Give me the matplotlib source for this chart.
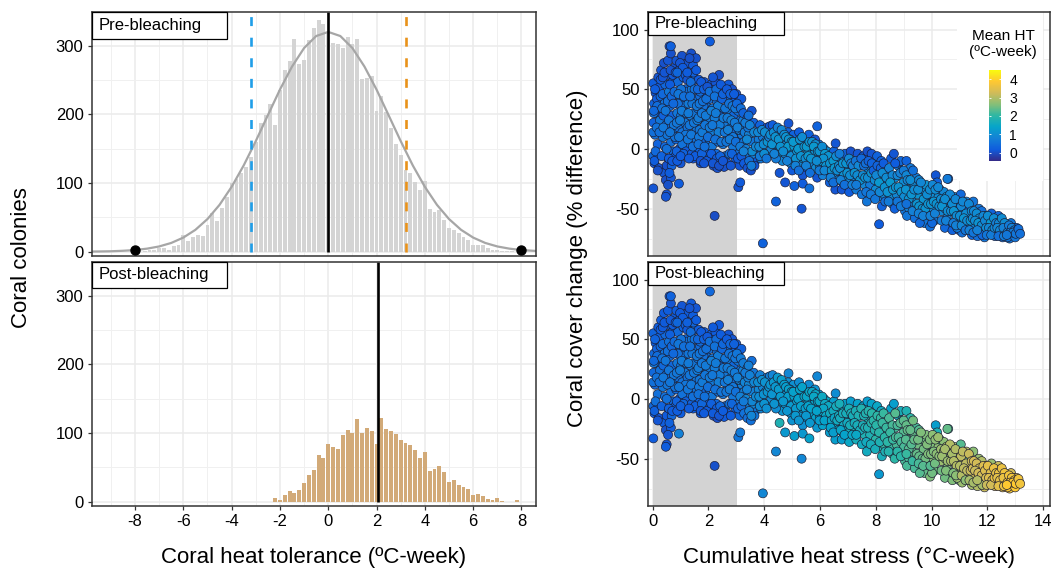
import numpy as np
import matplotlib
matplotlib.use("Agg")
import matplotlib.pyplot as plt
from matplotlib.colors import LinearSegmentedColormap
from matplotlib.patches import Rectangle

plt.rcParams['font.family'] = ['Liberation Sans', 'DejaVu Sans']
plt.rcParams['axes.unicode_minus'] = False

W, H = 1055, 569

# histogram counts
hist_pre_x = np.arange(-38, 39) * 0.2
hist_pre = [1, 2, 3, 5, 6, 3, 8, 10, 24, 16, 22, 25, 23, 39, 57, 45, 63, 80, 100, 106, 114, 124, 138, 160,
            188, 199, 215, 184, 235, 264, 277, 310, 273, 279, 308, 325, 337, 331, 320, 304, 303, 297, 313,
            303, 310, 251, 253, 256, 205, 227, 204, 180, 157, 141, 119, 115, 102, 90, 103, 62, 58, 60, 46,
            34, 32, 27, 22, 17, 10, 10, 9, 6, 2, 2, 1, 1, 1]
hist_post_x = np.arange(-11, 40) * 0.2
hist_post = [5, 3, 10, 15, 13, 17, 27, 39, 46, 68, 63, 84, 80, 77, 97, 105, 100, 120, 100, 108, 103, 84, 122,
             106, 103, 99, 90, 86, 82, 75, 63, 72, 45, 47, 52, 43, 29, 31, 24, 21, 19, 10, 11, 8, 4, 2, 6, 1,
             0, 0, 2]

curve_x = [-9.78, -9.5, -9, -8.5, -8, -7.5, -7, -6.5, -6, -5.5, -5, -4.5, -4, -3.5, -3, -2.5, -2, -1.5, -1, -0.5, 0,
           0.5, 1, 1.5, 2, 2.5, 3, 3.5, 4, 4.5, 5, 5.5, 6, 6.5, 7, 7.5, 8, 8.58]
curve_y = [0.2, 0.3, 0.6, 1.3, 2.4, 4.4, 7.6, 12.7, 20.5, 31.8, 47.5, 68.2, 94.4, 125.6, 161, 198.6, 236, 269.5, 296.5, 314, 320,
           314, 296.5, 269.5, 236, 198.6, 161, 125.6, 94.4, 68.2, 47.5, 31.8, 20.5, 12.7, 7.6, 4.4, 2.4, 1.1]
limit_x = [-8, 8]
limit_y = [2.4, 2.4]
mean_pre = 0
mean_post = 2.05
lower_ci = -3.2
upper_ci = 3.2
shade_end = 3.03

# sites, one row per ten points: heat stress, cover change and the mean HT before/after
stress = [
    .02, .10, .05, .20, .12, .03, .25, .08, .18, .02,
    .15, .30, .06, .28, .02, .22, .33, .10, .04, .26,
    .40, .52, .45, .60, .35, .55, .42, .65, .38, .58,
    .48, .62, .36, .70, .44, .56, .72, .40, .50, .66,
    .47, .65, .55, .74, .50, .68, .60, .78, .52, .70,
    .85, .95, 1.05, .90, 1.15, .80, 1.00, 1.10, .88, 1.18,
    .92, 1.02, .84, 1.12, .96, 1.06, .82, 1.16, 1.00, .90,
    1.25, 1.38, 1.30, 1.45, 1.52, 1.22, 1.40, 1.55, 1.28, 1.48,
    1.35, 1.25, 1.50, 1.42, 1.30, 1.58, 1.22, 1.45, 1.35, 1.55,
    1.65, 1.78, 1.70, 1.85, 1.95, 1.62, 1.80, 1.92, 1.68, 1.88,
    1.75, 1.95, 1.65, 1.85, 1.72, 1.90, 1.60, 1.98, 1.82, 1.70,
    2.10, 2.25, 2.05, 2.38, 2.15, 2.45, 2.08, 2.30, 2.20, 2.40,
    2.12, 2.35, 2.02, 2.28, 2.42, 2.18, 2.48, 2.06, 2.32, 2.22,
    2.58, 2.72, 2.65, 2.85, 2.55, 2.95, 2.78, 2.62, 2.90, 2.70,
    2.60, 2.82, 2.52, 2.92, 2.75, 2.68, 2.88, 2.98, 2.56, 2.80,
    3.00, 3.10, 3.05, 3.18, 2.95, 3.15, 3.02, 3.20, 3.08, 3.12,
    .08, .16, .28, .04, .36, .14, .24, .06, .32, .18,
    .42, .54, .34, .62, .46, .68, .38, .58, .74, .50,
    .72, .78, .64, .82, .76, .58, .86, .70, .80, .62,
    .98, 1.08, .88, 1.18, 1.02, .92, 1.12, 1.20, .86, 1.04,
    1.14, .98, 1.06, 1.20, .88, 1.10, 1.00, 1.18, 1.24, .94,
    1.32, 1.46, 1.24, 1.56, 1.36, 1.50, 1.28, 1.42, 1.58, 1.34,
    1.32, 1.48, 1.56, 1.26, 1.40, 1.60, 1.38, 1.52, 1.30, 1.44,
    1.62, 1.74, 1.84, 1.96, 1.68, 1.80, 1.92, 1.64, 1.76, 1.90,
    1.66, 1.78, 1.88, 1.98, 1.64, 1.76, 1.86, 1.72, 1.94, 1.84,
    2.04, 2.16, 2.28, 2.44, 2.22, 2.34, 2.10, 2.48, 2.26, 2.40,
    2.04, 2.14, 2.36, 2.24, 2.46, 2.10, 2.30, 2.42, 2.16, 2.38,
    2.52, 2.66, 2.78, 2.92, 2.60, 2.74, 2.86, 2.54, 2.68, 2.96,
    2.82, 2.94, 2.58, 2.70, 2.88, 2.64, 2.76, 2.98, 2.84, 2.52,
    3.02, 3.16, 3.24, 3.10, 3.22, 3.06, 3.28, 3.14, 3.04, 3.18,
    3.25, 3.40, 3.55, 3.30, 3.62, 3.45, 3.35, 3.58, 3.28, 3.50,
    3.40, 3.68, 3.52, 3.72, 3.60, 3.80, 3.42, 3.75, 3.65, 3.85,
    3.95, 4.10, 3.90, 4.20, 4.05, 4.30, 3.88, 4.15, 4.35, 4.25,
    4.45, 4.60, 4.40, 4.70, 4.50, 4.80, 4.55, 4.65, 4.42, 4.85,
    4.90, 5.05, 4.95, 5.15, 5.00, 5.25, 5.10, 5.30, 4.92, 5.20,
    5.35, 5.50, 5.40, 5.60, 5.45, 5.70, 5.55, 5.75, 5.38, 5.65,
    5.80, 5.95, 5.85, 6.05, 5.90, 6.15, 6.00, 6.20, 5.82, 6.10,
    6.25, 6.40, 6.30, 6.50, 6.35, 6.60, 6.45, 6.65, 6.28, 6.55,
    6.75, 6.90, 6.80, 7.00, 6.85, 7.10, 6.95, 7.15, 6.78, 7.05,
    7.20, 7.35, 7.25, 7.45, 7.30, 7.55, 7.40, 7.60, 7.22, 7.50,
    7.70, 7.85, 7.75, 7.95, 7.80, 8.05, 7.90, 8.10, 7.68, 8.00,
    8.20, 8.35, 8.25, 8.45, 8.30, 8.55, 8.40, 8.60, 8.22, 8.50,
    8.65, 8.80, 8.70, 8.90, 8.75, 9.00, 8.85, 9.05, 8.68, 8.95,
    9.10, 9.25, 9.15, 9.35, 9.20, 9.45, 9.30, 9.50, 9.12, 9.40,
    9.55, 9.70, 9.60, 9.80, 9.65, 9.90, 9.75, 9.95, 9.58, 9.85,
    10.0, 10.15, 10.05, 10.25, 10.10, 10.35, 10.20, 10.40, 10.02, 10.30,
    10.45, 10.6, 10.5, 10.7, 10.55, 10.8, 10.65, 10.85, 10.48, 10.75,
    10.9, 11.05, 10.95, 11.15, 11.0, 11.25, 11.1, 11.3, 10.92, 11.2,
    11.35, 11.5, 11.4, 11.6, 11.45, 11.7, 11.55, 11.75, 11.38, 11.65,
    11.8, 11.95, 11.85, 12.05, 11.9, 12.15, 12.0, 12.2, 11.82, 12.1,
    12.25, 12.4, 12.3, 12.5, 12.35, 12.6, 12.45, 12.65, 12.28, 12.55,
    12.7, 12.85, 12.75, 12.95, 12.8, 13.05, 12.9, 13.15, 12.72, 13.0,
    3.32, 3.48, 3.44, 3.64, 3.38, 3.56, 3.26, 3.70, 3.46, 3.54,
    3.78, 3.92, 4.02, 3.82, 3.98, 4.12, 3.84, 4.00, 4.18, 4.08,
    4.22, 4.34, 4.48, 4.28, 4.40, 4.52, 4.62, 4.36, 4.58, 4.72,
    4.78, 4.88, 4.98, 4.75, 4.86, 4.96, 5.08, 5.18, 4.82, 4.68,
    5.04, 5.14, 5.28, 5.36, 5.22, 5.32, 5.44, 5.12, 5.24, 5.48,
    5.52, 5.62, 5.72, 5.84, 5.58, 5.68, 5.78, 5.92, 5.50, 5.64,
    5.98, 6.08, 6.18, 6.30, 6.02, 6.12, 6.22, 5.88, 5.98, 6.16,
    6.36, 6.48, 6.58, 6.70, 6.42, 6.52, 6.62, 6.38, 6.48, 6.68,
    6.72, 6.82, 6.94, 7.04, 6.86, 6.98, 7.08, 6.74, 6.88, 7.12,
    7.18, 7.28, 7.38, 7.48, 7.24, 7.34, 7.44, 7.16, 7.30, 7.58,
    7.54, 7.64, 7.74, 7.86, 7.62, 7.72, 7.84, 7.92, 7.66, 7.82,
    7.96, 8.06, 8.18, 8.28, 8.02, 8.12, 8.24, 7.98, 8.14, 8.32,
    8.38, 8.48, 8.60, 8.70, 8.42, 8.52, 8.62, 8.34, 8.46, 8.72,
    8.78, 8.88, 9.00, 9.10, 8.82, 8.92, 9.02, 8.78, 8.90, 9.08,
    9.14, 9.24, 9.34, 9.46, 9.18, 9.28, 9.38, 9.10, 9.32, 9.48,
    9.52, 9.62, 9.72, 9.84, 9.56, 9.68, 9.78, 9.54, 9.70, 9.88,
    9.94, 10.04, 10.14, 10.24, 9.98, 10.08, 10.18, 9.96, 10.12, 10.28,
    10.34, 10.44, 10.54, 10.66, 10.38, 10.48, 10.58, 10.36, 10.52, 10.70,
    10.74, 10.86, 10.96, 11.06, 10.80, 10.90, 11.02, 10.78, 10.88, 11.08,
    11.12, 11.24, 11.34, 11.44, 11.16, 11.28, 11.40, 11.22, 11.36, 11.48,
    11.52, 11.62, 11.72, 11.84, 11.56, 11.68, 11.80, 11.50, 11.64, 11.86,
    11.92, 12.02, 12.12, 12.24, 11.96, 12.06, 12.18, 11.98, 12.14, 12.26,
    12.32, 12.42, 12.52, 12.62, 12.36, 12.46, 12.58, 12.40, 12.60, 12.72,
    12.78, 12.88, 12.98, 13.08, 12.82, 12.92, 13.02, 13.12, 13.18, 12.70,
    2.05, .65, 2.22, 3.95, 4.42, 5.34, 8.12, 5.90, 4.87, 6.56,
    10.57, .02, .47, .94, 3.07, 3.14, 4.75, 5.08, 5.38, 5.62,
]
cover = [
    55, 47, 38, 60, 30, 22, 52, 12, 4, -6,
    42, 66, -12, 44, 14, -16, 34, -2, 30, 24,
    72, 62, 54, 86, 46, 74, 38, 80, 28, 48,
    20, 36, 10, 28, 2, -8, 16, -20, -14, 6,
    -26, -24, -30, -2, -38, -14, -20, 68, 12, 56,
    74, 66, 78, 56, 70, 46, 40, 60, 30, 50,
    18, 28, 8, 36, 0, 14, -6, 22, -12, 38,
    72, 80, 62, 70, 58, 48, 50, 76, 38, 42,
    28, 18, 30, 10, 4, 16, -6, -8, -2, 0,
    58, 52, 44, 56, 46, 34, 26, 36, 16, 6,
    8, 22, -2, -6, -12, 14, 24, -2, 36, 48,
    54, 56, 42, 62, 34, 48, 24, 40, 12, 28,
    2, 6, -8, -4, 16, -14, -10, 14, -16, 26,
    52, 54, 42, 50, 34, 40, 30, 20, 28, 10,
    -6, 18, 4, 14, -4, -12, 2, -8, -15, -14,
    46, 40, 32, 42, 22, 24, 8, 12, -4, -14,
    50, 36, 58, 32, 60, 18, 14, -10, -6, -18,
    64, 40, 34, 54, 32, 44, 18, 24, 38, 0,
    62, 48, 66, 64, 20, -8, -2, -10, 10, 14,
    72, 68, 64, 62, 50, 46, 44, 30, 22, 32,
    8, 24, 4, -2, -10, -4, -6, 12, 58, 10,
    76, 64, 64, 66, 56, 50, 30, 38, 36, 44,
    20, 22, 8, 8, -4, 24, 12, -6, -8, 2,
    50, 56, 50, 52, 38, 40, 42, 26, 30, 28,
    10, 14, 20, 10, 4, -4, 2, -10, -10, -12,
    48, 60, 50, 54, 44, 36, 32, 42, 30, 20,
    18, 20, 14, 8, 6, -4, -8, -6, -12, -14,
    46, 50, 46, 46, 34, 38, 36, 26, 26, 34,
    24, 22, 14, 16, 10, 6, 8, 6, -4, -10,
    38, 34, 24, 16, 16, -8, 6, 2, 18, -6,
    30, 26, 32, 14, 22, 12, 0, 6, -12, -6,
    -16, -10, -18, 14, -4, 8, 18, -2, -14, 20,
    10, 18, 0, 19, 6, 20, -8, -4, 10, 0,
    16, 12, 4, 8, -4, 4, -20, -10, -8, 14,
    -2, 12, -12, 6, -18, 14, -6, -14, 8, -2,
    4, 8, -8, 12, -18, 0, -4, 6, -22, -14,
    -4, 4, -16, -6, -24, 0, -14, -10, 8, -22,
    -2, -8, -18, -2, -28, -12, -22, -26, -12, -34,
    -8, -4, -20, -14, -30, -2, -26, -18, -34, -36,
    -10, -4, -26, -14, -34, -6, -24, -30, -18, -38,
    -2, -4, -18, -12, -30, -6, -24, -40, -44, -34,
    -10, -16, -26, -22, -38, -8, -32, -46, -48, -40,
    -4, -14, -24, -10, -38, -28, -46, -52, -50, -18,
    -10, -16, -34, -28, -50, -24, -44, -38, -56, -58,
    -26, -34, -46, -30, -56, -42, -62, -65, -62, -52,
    -38, -22, -50, -40, -60, -52, -28, -46, -62, -34,
    -36, -25, -50, -44, -58, -40, -62, -54, -66, -68,
    -46, -38, -60, -52, -68, -44, -70, -62, -66, -58,
    -50, -44, -64, -56, -72, -50, -66, -62, -58, -73,
    -52, -56, -66, -60, -74, -54, -70, -64, -72, -58,
    -60, -56, -68, -64, -72, -62, -70, -70, -73, -74,
    -66, -62, -72, -66, -75, -66, -72, -70, -74, -74,
    22, 20, 28, 14, 8, -2, -2, 2, -10, -14,
    14, 16, 14, 2, 4, 6, -6, -4, 10, -8,
    12, 14, 18, 4, 10, 8, 16, -4, 2, 12,
    10, 8, 6, -4, 2, -6, 2, -2, -10, -2,
    6, -8, 8, 10, 0, -6, 2, -14, -18, -8,
    2, 6, 6, 4, -6, -8, 2, -2, -14, -20,
    -2, 2, -4, -6, -10, -8, -14, -10, -18, -18,
    -12, -10, -6, -4, -18, -16, -18, -24, -28, -14,
    -16, -12, -12, -8, -22, -20, -22, -26, -30, -12,
    -14, -10, -14, -8, -20, -22, -26, -30, -30, -14,
    -22, -12, -10, -12, -24, -24, -20, -18, -36, -38,
    -26, -14, -16, -12, -22, -28, -20, -42, -36, -32,
    -24, -16, -22, -12, -36, -28, -34, -44, -44, -32,
    -22, -20, -18, -22, -32, -36, -40, -44, -48, -34,
    -26, -26, -18, -34, -42, -38, -34, -46, -52, -46,
    -34, -28, -42, -38, -48, -50, -50, -54, -56, -46,
    -34, -30, -34, -32, -46, -44, -46, -56, -54, -48,
    -42, -44, -40, -38, -48, -42, -52, -60, -60, -52,
    -46, -42, -52, -48, -52, -56, -56, -62, -64, -64,
    -44, -54, -46, -52, -58, -60, -60, -68, -68, -58,
    -52, -54, -58, -60, -60, -62, -64, -70, -68, -56,
    -60, -56, -62, -58, -66, -66, -68, -72, -72, -66,
    -62, -62, -58, -62, -66, -68, -66, -73, -73, -70,
    -64, -66, -68, -68, -70, -70, -71, -67, -71, -72,
    90, 86, -56, -79, -44, -50, -63, 19, 21.5, 4.7,
    -25, -33, -40, -29, -32, -28, -28, -31, -29, -33,
]
ht_pre = [
    .2, .1, .3, .1, .4, .3, .15, .5, .3, .4,
    .2, .1, .1, .4, .5, .05, .3, .4, .5, .6,
    .05, .2, .35, .1, .4, .1, .55, .05, .3, .6,
    .5, .45, .6, .3, .4, .05, .55, .1, .05, .5,
    0, .1, .05, .4, .1, .3, .2, .1, .6, .3,
    .1, .2, .05, .4, .1, .45, .65, .25, .6, .4,
    .5, .65, .4, .5, .15, .55, .2, .6, .1, .5,
    .1, .05, .3, .15, .4, .5, .6, .05, .7, .55,
    .7, .55, .6, .45, .5, .6, .3, .1, .4, .35,
    .15, .2, .45, .1, .2, .6, .7, .5, .6, .55,
    .4, .65, .3, .2, .1, .7, .6, .25, .5, .45,
    .2, .1, .5, .05, .6, .2, .7, .5, .65, .4,
    .6, .55, .35, .4, .7, .05, .15, .75, .05, .7,
    .1, .15, .45, .05, .6, .2, .7, .65, .4, .75,
    .5, .7, .6, .4, .55, .1, .65, .2, .05, .1,
    .1, .2, .5, .15, .7, .5, .7, .6, .5, .1,
    .2, .45, .15, .4, .1, .55, .5, .2, .3, .05,
    .1, .5, .55, .2, .6, .4, .65, .6, .4, .5,
    .15, .45, .1, .1, .65, .2, .3, .15, .55, .6,
    .1, .15, .35, .2, .55, .6, .5, .7, .65, .7,
    .65, .7, .55, .2, .15, .3, .2, .6, .1, .6,
    .05, .3, .2, .15, .45, .55, .7, .6, .65, .5,
    .6, .65, .55, .6, .2, .7, .65, .2, .15, .5,
    .35, .15, .25, .1, .6, .55, .5, .7, .65, .7,
    .65, .7, .6, .5, .55, .3, .5, .1, .15, .1,
    .5, .1, .45, .15, .55, .7, .75, .3, .7, .7,
    .7, .65, .75, .55, .6, .2, .15, .3, .1, .05,
    .3, .15, .3, .2, .6, .55, .65, .7, .7, .6,
    .75, .7, .65, .75, .65, .6, .7, .5, .3, .1,
    .4, .5, .7, .75, .7, .2, .6, .7, .75, .2,
    .3, .4, .1, .7, .3, .8, .8, .6, .15, .6,
    .1, .2, .05, .8, .8, .7, .6, .85, .1, .3,
    .7, .2, .85, .15, .9, .2, .7, .95, .4, .85,
    .3, .5, .9, .8, 1.1, .9, .1, .9, .7, .3,
    1.1, .3, .95, .9, .15, .2, 1.15, .9, .5, 1.1,
    1.0, .8, 1.2, .3, .2, 1.1, 1.15, .5, .1, .9,
    1.1, .6, .95, 1.1, .1, .7, 1.0, .95, .1, .8,
    1.0, 1.1, .95, .3, .3, 1.05, .9, .8, 1.0, .1,
    .9, .3, 1.0, .9, .7, .05, .9, .8, .1, .2,
    .4, .1, .9, .9, .7, .15, 1.1, .9, 1.0, .6,
    .05, .1, .95, .9, .7, .3, 1.1, .8, .6, 1.0,
    .3, .6, 1.0, 1.0, .9, .2, 1.1, .7, .3, 1.0,
    .1, .7, 1.0, .4, .9, 1.0, .8, .6, .3, .3,
    .3, .7, 1.0, 1.0, .8, .7, .9, 1.1, .6, .5,
    .9, 1.0, .9, 1.1, .8, 1.0, .6, .5, .4, .8,
    1.0, .1, .9, 1.0, .7, .9, .3, 1.0, .4, .6,
    .9, .5, 1.0, 1.0, .8, .9, .7, .9, .4, .3,
    .8, .4, 1.0, .9, .4, .8, .5, .9, .7, 1.0,
    .4, .6, .9, .9, .4, .7, .9, .9, .2, .5,
    .5, .8, .9, 1.0, .6, .3, .8, .9, .4, .5,
    .2, .4, .8, .9, .6, .7, 1.2, .8, .5, .5,
    .3, .6, .8, .7, .6, .4, .7, .5, .6, .6,
    .7, .8, .5, .9, .9, 1.0, .8, .9, .5, .7,
    .9, .9, 1.0, .9, 1.0, 1.1, .7, 1.0, .8, .6,
    1.0, 1.0, .8, 1.1, 1.1, 1.1, .9, .8, 1.1, 1.0,
    1.1, 1.1, 1.2, .9, 1.2, 1.0, 1.2, 1.1, .8, 1.0,
    1.2, 1.1, 1.1, 1.0, 1.2, 1.1, 1.1, .8, .5, 1.0,
    1.2, 1.1, 1.1, 1.0, 1.2, 1.1, 1.2, 1.1, .8, .5,
    1.1, 1.0, 1.2, 1.1, 1.2, 1.1, 1.1, 1.0, .7, .9,
    1.1, 1.2, 1.0, .7, 1.1, 1.2, 1.0, .8, .5, 1.0,
    1.0, 1.1, 1.1, .9, 1.1, 1.1, 1.0, .8, .5, .8,
    .8, .6, .9, .4, 1.1, 1.0, 1.1, .8, .7, .5,
    1.0, .5, .3, .3, 1.1, 1.0, 1.1, .3, .6, .7,
    1.0, .3, .3, .2, .9, 1.2, 1.0, .6, .9, 1.1,
    1.0, .8, .9, .2, 1.1, 1.2, 1.1, .5, .7, 1.1,
    .9, .8, .7, .9, 1.1, 1.1, 1.0, .6, .7, 1.1,
    .9, 1.0, .5, 1.0, 1.1, 1.1, 1.0, .5, .8, 1.1,
    1.0, .9, 1.1, 1.0, 1.1, 1.1, 1.1, .8, .8, 1.1,
    1.0, .9, 1.0, .9, 1.1, 1.1, 1.1, .8, .8, 1.0,
    1.0, 1.0, 1.1, .9, 1.1, 1.0, 1.0, .7, .8, 1.0,
    1.0, .9, 1.0, .9, 1.1, 1.0, 1.0, .7, .8, .9,
    .9, 1.0, .9, 1.0, 1.1, 1.0, 1.1, .6, .8, 1.0,
    .9, 1.0, 1.0, 1.1, 1.0, 1.1, 1.0, .6, .8, .9,
    .9, 1.0, 1.2, 1.0, 1.0, .9, 1.0, .6, .7, .9,
    .8, .9, 1.0, 1.0, .9, .9, .8, .5, .7, .8,
    .7, .8, .7, .6, .7, .7, .6, .5, .5, .6,
    .2, .25, 0, .3, .3, .1, .2, .3, .1, .1,
    .7, .1, .1, .2, .1, .15, .1, .3, .2, .5,
]
ht_post = [
    .3, .2, .4, .2, .5, .4, .25, .4, .5, .4,
    .3, .2, .2, .4, .5, .1, .3, .5, .6, .5,
    .15, .25, .4, .2, .45, .2, .55, .1, .4, .5,
    .5, .45, .6, .35, .5, .2, .55, .2, .15, .5,
    .05, .15, .1, .4, .1, .35, .25, .2, .6, .3,
    .2, .25, .1, .4, .15, .45, .6, .3, .6, .4,
    .5, .6, .4, .5, .2, .55, .3, .6, .2, .5,
    .2, .15, .35, .2, .45, .5, .6, .1, .6, .55,
    .7, .55, .6, .5, .5, .6, .35, .2, .4, .35,
    .2, .25, .45, .15, .3, .6, .7, .5, .6, .55,
    .4, .65, .3, .25, .15, .7, .6, .3, .5, .45,
    .25, .2, .5, .15, .6, .25, .7, .5, .6, .4,
    .6, .55, .35, .4, .7, .1, .2, .7, 0, .7,
    .2, .1, .45, .1, .6, .25, .7, .65, .4, .75,
    .5, .7, .6, .45, .55, .2, .65, .25, .15, .2,
    .2, .3, .6, .25, .7, .6, .8, .75, .65, .4,
    .3, .45, .2, .4, .15, .55, .5, .25, .3, .1,
    .15, .5, .55, .25, .6, .4, .65, .6, .4, .5,
    .2, .45, .15, .15, .65, .25, .3, .2, .55, .6,
    .15, .2, .35, .25, .55, .6, .5, .7, .65, .7,
    .65, .7, .55, .25, .2, .35, .25, .6, .15, .6,
    .1, .35, .25, .2, .45, .55, .7, .6, .65, .5,
    .6, .65, .55, .6, .25, .7, .65, .25, .2, .5,
    .35, .2, .3, .15, .6, .55, .5, .7, .65, .7,
    .65, .7, .6, .5, .55, .35, .5, .15, .2, .15,
    .5, .15, .45, .2, .55, .7, .75, .35, .7, .7,
    .7, .65, .75, .55, .6, .25, .2, .35, .15, .1,
    .35, .2, .35, .25, .6, .55, .65, .7, .7, .6,
    .75, .7, .65, .75, .65, .6, .7, .55, .35, .2,
    .6, .7, .8, .85, .8, .4, .75, .8, .8, .45,
    .7, .75, .5, .85, .6, .9, .9, .8, .55, .75,
    .5, .6, .55, .95, .9, .9, .8, .95, .6, .8,
    .9, .75, 1.0, .8, 1.05, .85, .9, 1.05, .9, 1.0,
    1.0, 1.1, 1.05, 1.1, 1.2, 1.1, 1.8, 1.15, 1.0, 1.05,
    1.25, 1.05, 1.2, 1.15, 1.1, 1.0, 1.3, 1.2, 1.05, 1.3,
    1.35, 1.2, 1.4, 1.0, 1.25, 1.4, 1.4, 1.2, 1.05, 1.4,
    1.45, 1.2, 1.4, 1.5, 1.2, 1.3, 1.45, 1.5, 1.1, 1.4,
    1.5, 1.6, 1.45, 1.3, 1.3, 1.6, 1.5, 1.5, 1.5, 1.3,
    1.6, 1.4, 1.65, 1.7, 1.5, 1.3, 1.7, 1.7, 1.3, 1.5,
    1.5, 1.4, 1.8, 1.8, 1.7, 1.4, 1.9, 1.8, 1.7, 1.6,
    1.3, 1.4, 1.9, 1.95, 1.8, 1.5, 2.0, 1.9, 1.6, 2.0,
    1.6, 1.8, 2.1, 2.1, 2.1, 1.4, 2.2, 2.1, 1.7, 2.1,
    1.3, 1.7, 2.2, 1.7, 2.2, 2.3, 2.2, 2.2, 2.0, 1.7,
    1.8, 2.0, 2.4, 2.4, 2.2, 2.2, 2.4, 2.5, 2.2, 2.2,
    2.3, 2.5, 2.5, 2.6, 2.4, 2.6, 2.4, 2.6, 2.3, 2.5,
    2.6, 1.3, 2.7, 2.7, 2.5, 2.8, 1.8, 2.8, 2.5, 2.3,
    2.7, 2.2, 2.8, 2.9, 2.6, 2.9, 2.6, 3.0, 2.5, 2.6,
    2.9, 2.3, 3.0, 3.1, 2.5, 3.0, 2.8, 3.1, 2.8, 3.1,
    2.4, 2.7, 3.2, 3.2, 2.9, 2.8, 3.2, 3.3, 2.6, 3.0,
    3.0, 3.3, 3.3, 3.4, 3.2, 2.8, 3.3, 3.4, 2.9, 3.0,
    2.9, 3.2, 3.5, 3.5, 3.4, 3.4, 3.6, 3.5, 3.5, 3.6,
    3.2, 3.3, 3.8, 3.5, 3.7, 3.5, 3.8, 3.6, 3.8, 3.9,
    .7, .8, .75, .9, .8, .9, .7, .95, .8, .85,
    1.0, 1.05, 1.1, 1.0, 1.1, 1.15, .95, 1.1, 1.15, 1.05,
    1.15, 1.2, 1.25, 1.15, 1.2, 1.25, 1.3, 1.1, 1.25, 1.3,
    1.3, 1.35, 1.35, 1.2, 1.3, 1.25, 1.35, 1.3, 1.15, 1.2,
    1.35, 1.25, 1.4, 1.4, 1.35, 1.35, 1.45, 1.2, 1.15, 1.3,
    1.45, 1.5, 1.5, 1.5, 1.4, 1.4, 1.5, 1.4, 1.2, 1.2,
    1.5, 1.55, 1.55, 1.55, 1.5, 1.5, 1.5, 1.4, 1.3, 1.4,
    1.6, 1.6, 1.65, 1.7, 1.5, 1.5, 1.6, 1.4, 1.3, 1.6,
    1.65, 1.7, 1.7, 1.75, 1.6, 1.6, 1.7, 1.45, 1.4, 1.75,
    1.7, 1.75, 1.8, 1.85, 1.7, 1.7, 1.7, 1.5, 1.5, 1.8,
    1.75, 1.85, 1.9, 1.95, 1.8, 1.8, 1.9, 1.95, 1.6, 1.7,
    1.9, 2.0, 2.05, 2.1, 1.95, 1.95, 2.1, 1.7, 1.8, 2.0,
    2.1, 2.2, 2.2, 2.3, 2.0, 2.1, 2.1, 1.8, 1.9, 2.2,
    2.2, 2.3, 2.35, 2.4, 2.2, 2.2, 2.2, 2.0, 2.0, 2.3,
    2.4, 2.4, 2.5, 2.4, 2.3, 2.3, 2.4, 2.1, 2.1, 2.4,
    2.5, 2.6, 2.5, 2.6, 2.4, 2.4, 2.5, 2.2, 2.3, 2.6,
    2.6, 2.7, 2.7, 2.8, 2.6, 2.6, 2.7, 2.3, 2.5, 2.7,
    2.8, 2.8, 2.9, 3.0, 2.8, 2.9, 2.8, 2.5, 2.6, 2.9,
    2.9, 3.0, 3.0, 3.1, 3.0, 3.0, 3.0, 2.6, 2.7, 3.0,
    3.1, 3.1, 3.2, 3.2, 3.1, 3.1, 3.2, 2.7, 2.9, 3.3,
    3.3, 3.3, 3.3, 3.4, 3.2, 3.3, 3.3, 2.9, 3.0, 3.4,
    3.4, 3.5, 3.4, 3.6, 3.3, 3.4, 3.4, 3.2, 3.3, 3.6,
    3.5, 3.6, 3.6, 3.7, 3.5, 3.5, 3.6, 3.5, 3.6, 3.8,
    3.7, 3.7, 3.8, 3.7, 3.8, 3.9, 3.9, 3.7, 3.7, 3.9,
    .4, .3, .05, .9, .9, .9, 1.2, .9, .9, 1.0,
    2.4, .2, .2, .8, .6, .7, 1.2, 1.3, 1.2, 1.4,
]

pre_ticks = [0, 100, 200, 300]
left_x_ticks = [-8, -6, -4, -2, 0, 2, 4, 6, 8]
right_x_ticks = [0, 2, 4, 6, 8, 10, 12, 14]
right_y_ticks = [-50, 0, 50, 100]
ht_ticks = [0, 1, 2, 3, 4]

parula = LinearSegmentedColormap.from_list(
    "parula", ["#352a87", "#0f5cdd", "#1481d6", "#06a4ca", "#2eb7a4", "#87bf77", "#d1bb59", "#fec832", "#f9fb0e"])


def px_axes(left, top, right, bottom):
    return fig.add_axes([left / W, 1 - bottom / H, (right - left) / W, (bottom - top) / H])


def style(ax, xticks, yticks, xminor, yminor, xlabels):
    ax.set_axisbelow(True)
    ax.set_xticks(xticks)
    ax.set_yticks(yticks)
    ax.set_xticks(xminor, minor=True)
    ax.set_yticks(yminor, minor=True)
    ax.grid(which="major", color="#ebebeb", lw=1.1)
    ax.grid(which="minor", color="#f0f0f0", lw=0.7)
    ax.tick_params(which="minor", length=0)
    ax.tick_params(which="major", length=2.6, width=0.9, color="#333333", labelsize=12, pad=3.5, labelcolor="black")
    if not xlabels:
        ax.tick_params(axis="x", which="major", length=0, labelbottom=False)
    for s in ax.spines.values():
        s.set_color("#333333")
        s.set_linewidth(1.1)


def tag(ax, label, box_w, box_h):
    # label box sits in the top left corner of the panel, sizes in pixels
    l, t = ax.transAxes.transform((0, 1))
    fig.patches.append(Rectangle((l / W, t / H - box_h / H), box_w / W, box_h / H, transform=fig.transFigure,
                                 fc="white", ec="black", lw=0.9, zorder=5))
    fig.text((l + 7) / W, (t - box_h / 2) / H, label, fontsize=12, va="center", ha="left", zorder=6)


fig = plt.figure(figsize=(W / 100, H / 100), dpi=100, facecolor="white")

x_minor_left = [-9, -7, -5, -3, -1, 1, 3, 5, 7]
y_minor_left = [50, 150, 250]
x_minor_right = [1, 3, 5, 7, 9, 11, 13]
y_minor_right = [-75, -25, 25, 75]

ax1 = px_axes(92, 12, 535.5, 256)
ax1.bar(hist_pre_x, hist_pre, width=0.16, color="#d4d4d4", lw=0)
ax1.plot(curve_x, curve_y, color="#a6a6a6", lw=1.6)
ax1.vlines(lower_ci, 0, 344, color="#1f9ee8", lw=1.9, linestyle=(0, (3.4, 4.4)))
ax1.vlines(upper_ci, 0, 344, color="#e8921a", lw=1.9, linestyle=(0, (3.4, 4.4)))
ax1.vlines(mean_pre, 0, 349, color="black", lw=1.9)
ax1.scatter(limit_x, limit_y, s=42, color="black", zorder=4)
ax1.set_xlim(-9.78, 8.58)
ax1.set_ylim(-6.3, 349)
style(ax1, left_x_ticks, pre_ticks, x_minor_left, y_minor_left, False)

ax2 = px_axes(92, 262, 535.5, 506)
ax2.bar(hist_post_x, hist_post, width=0.16, color="#d2aa78", lw=0)
ax2.vlines(mean_post, 0, 349, color="black", lw=1.9)
ax2.set_xlim(-9.78, 8.58)
ax2.set_ylim(-6.3, 349)
style(ax2, left_x_ticks, pre_ticks, x_minor_left, y_minor_left, True)

ax3 = px_axes(648, 12, 1050, 256)
ax3.axvspan(0, shade_end, color="#d3d3d3", lw=0, zorder=1)
sc = ax3.scatter(stress, cover, c=ht_pre, cmap=parula, vmin=-0.45, vmax=4.5, s=42,
                 edgecolors="#1a1a2e", linewidths=0.45, zorder=2)
ax3.set_xlim(-0.17, 14.25)
ax3.set_ylim(-89.6, 114.7)
style(ax3, right_x_ticks, right_y_ticks, x_minor_right, y_minor_right, False)
ax3.add_patch(Rectangle((957, H - 181), 86, 169, transform=None, fc="white", ec="none", zorder=1.5))

ax4 = px_axes(648, 262, 1050, 506)
ax4.axvspan(0, shade_end, color="#d3d3d3", lw=0, zorder=1)
ax4.scatter(stress, cover, c=ht_post, cmap=parula, vmin=-0.45, vmax=4.5, s=42,
            edgecolors="#1a1a2e", linewidths=0.45, zorder=2)
ax4.set_xlim(-0.17, 14.25)
ax4.set_ylim(-89.6, 114.7)
style(ax4, right_x_ticks, right_y_ticks, x_minor_right, y_minor_right, True)

tag(ax1, "Pre-bleaching", 135, 26.5)
tag(ax2, "Post-bleaching", 135, 26)
tag(ax3, "Pre-bleaching", 136, 23)
tag(ax4, "Post-bleaching", 136, 23)

# colour legend
cax = px_axes(989, 70, 1001, 161)
cb = fig.colorbar(sc, cax=cax, ticks=ht_ticks)
cb.outline.set_visible(False)
cb.ax.tick_params(length=0, labelsize=10, pad=6)
cax.hlines(ht_ticks, 0, 0.2, color="white", lw=0.6, transform=cax.get_yaxis_transform())
cax.hlines(ht_ticks, 0.8, 1, color="white", lw=0.6, transform=cax.get_yaxis_transform())
fig.text(1003 / W, 1 - 44 / H, "Mean HT\n(ºC-week)", fontsize=11, ha="center", va="center", linespacing=1.2)

fig.text(22 / W, 1 - 258 / H, "Coral colonies", fontsize=16, rotation=90, ha="center", va="center")
fig.text(578 / W, 1 - 258 / H, "Coral cover change (% difference)", fontsize=16, rotation=90, ha="center", va="center")
fig.text(314 / W, 1 - 557 / H, "Coral heat tolerance (ºC-week)", fontsize=16, ha="center", va="center")
fig.text(849 / W, 1 - 557 / H, "Cumulative heat stress (°C-week)", fontsize=16, ha="center", va="center")

fig.savefig("out.png", dpi=100)
